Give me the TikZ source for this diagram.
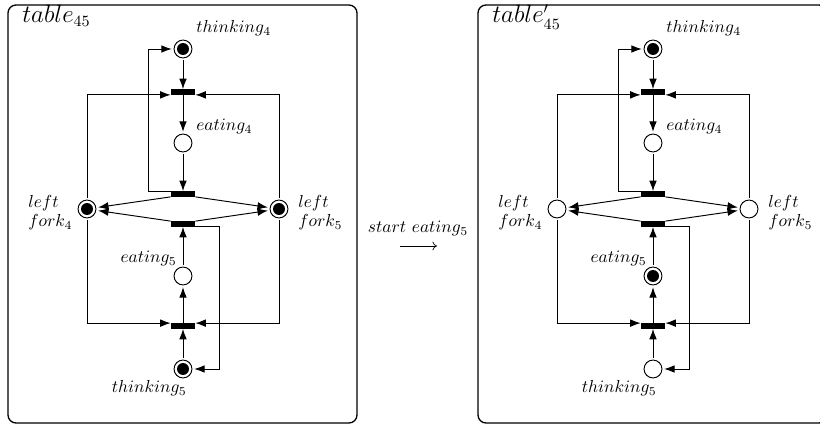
\documentclass[tikz,border=0pt]{standalone}
\usetikzlibrary{arrows.meta,calc}

\tikzset{
  arc/.style={line width=0.55pt, -{Latex[length=6pt,width=4.4pt]}},
  place/.style={circle, draw, line width=0.55pt, minimum size=10.3pt,
                inner sep=0pt, outer sep=1.3pt},
  marked/.style={place, path picture={\fill (path picture bounding box.center) circle (3.45pt);}},
  trans/.style={rectangle, fill=black, minimum width=14.2pt, minimum height=3.3pt,
                inner sep=0pt, outer sep=0pt},
  lbl/.style={inner sep=0pt, anchor=base west},
  frame/.style={draw, line width=0.75pt, rounded corners=4.6pt},
  steparrow/.style={line width=0.4pt, -{To[length=2.6pt,width=5pt]}},
}

% One dining-philosophers net: #1 x offset, #2 name prefix, #3 title,
% #4..#9 styles of thinking4, eating4, left fork4, left fork5, eating5, thinking5
\newcommand{\dinernet}[9]{%
\begin{scope}[shift={(#1,0)}, name prefix=#2-]
  \draw[frame] (8,5) rectangle (357,423);
  \node[lbl] (title) at (22,23) {\fontsize{13.5}{16}\selectfont $#3$};

  \node[#4] (th4) at (183,49) {};
  \node[trans] (t1) at (183,92) {};
  \node[#5] (ea4) at (183,143) {};
  \node[trans] (t2) at (183,194) {};
  \node[#6] (lf4) at (87,209) {};
  \node[#7] (lf5) at (279,209) {};
  \node[trans] (t3) at (183,224) {};
  \node[#8] (ea5) at (183,276) {};
  \node[trans] (t4) at (183,326) {};
  \node[#9] (th5) at (183,369) {};

  \coordinate (lloop) at (148,0);
  \coordinate (rloop) at (219,0);

  \node[lbl] (th4l) at (196,33) {$thinking_4$};
  \node[lbl] (ea4l) at (196,131) {$eating_4$};
  % the base of a two-line label is the baseline of its last line
  \node[lbl, align=left] (lf4l) at (28,227) {$left$\\[-1pt]$fork_4$};
  \node[lbl, align=left] (lf5l) at (298,227) {$left$\\[-1pt]$fork_5$};
  \node[lbl, anchor=base east] (ea5l) at (177,263) {$eating_5$};
  \node[lbl, anchor=base east] (th5l) at (187,393) {$thinking_5$};

  % philosopher 4
  \draw[arc] (th4) -- (t1);
  \draw[arc] (t1) -- (ea4);
  \draw[arc] (ea4) -- (t2);
  \draw[arc] (t2.north west) -| (lloop |- th4) -- (th4);
  \draw[arc] (t2.south west) -- (lf4);
  \draw[arc] (t2.south east) -- (lf5);
  \draw[arc] (lf4) |- (t1.south west);
  \draw[arc] (lf5) |- (t1.south east);
  % philosopher 5
  \draw[arc] (th5) -- (t4);
  \draw[arc] (t4) -- (ea5);
  \draw[arc] (ea5) -- (t3);
  \draw[arc] (t3.south east) -| (rloop |- th5) -- (th5);
  \draw[arc] (t3.north west) -- (lf4);
  \draw[arc] (t3.north east) -- (lf5);
  \draw[arc] (lf4) |- (t4.north west);
  \draw[arc] (lf5) |- (t4.north east);
\end{scope}}

\begin{document}
\begin{tikzpicture}[x=0.575pt, y=-0.575pt]
  \clip (0,0) rectangle (820,425);
  \path[use as bounding box] (0,0) rectangle (820,425);

  \dinernet{0}{L}{table_{45}}{marked}{place}{marked}{marked}{place}{marked}
  \dinernet{470}{R}{table'_{45}}{marked}{place}{place}{place}{marked}{place}

  % firing step between the two markings
  \node[inner sep=0pt, anchor=base] (step) at (418,233) {$start\ eating_5$};
  \coordinate (stepfrom) at (400,246);
  \coordinate (stepto) at (437,246);
  \draw[steparrow] (stepfrom) -- (stepto);
\end{tikzpicture}
\end{document}
